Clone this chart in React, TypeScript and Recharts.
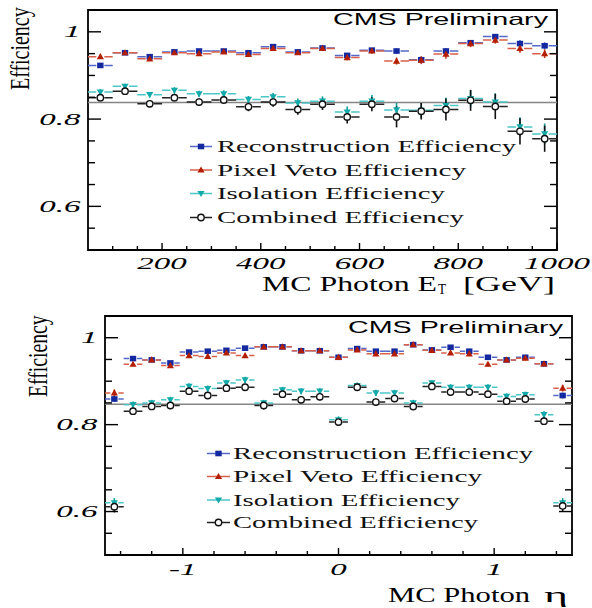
import React from "react";
import {
  ErrorBar,
  ReferenceArea,
  ReferenceLine,
  Scatter,
  ScatterChart,
  XAxis,
  YAxis,
} from "recharts";

// ---- shared efficiency axis ----
const effDomain = [0.5, 1.05];
const effTicks = [0.55, 0.6, 0.65, 0.7, 0.75, 0.8, 0.85, 0.9, 0.95, 1];
const effMajor = [0.6, 0.8, 1];

// ---- E_T panel ----
const etBins = [75, 125, 175, 225, 275, 325, 375, 425, 475, 525, 575, 625, 675, 725, 775, 825, 875, 925, 975];
const etHalfBin = 25;
const etTicks = [100, 150, 200, 250, 300, 350, 400, 450, 500, 550, 600, 650, 700, 750, 800, 850, 900, 950, 1000];
const etMajor = [200, 400, 600, 800, 1000];
const etAvg = 0.838;

const etReco = [0.923, 0.952, 0.943, 0.954, 0.956, 0.956, 0.952, 0.966, 0.954, 0.963, 0.946, 0.958, 0.956, 0.936, 0.956, 0.975, 0.989, 0.973, 0.968];
const etRecoErr = [0.004, 0.003, 0.003, 0.003, 0.003, 0.003, 0.004, 0.003, 0.004, 0.004, 0.005, 0.005, 0.006, 0.007, 0.007, 0.006, 0.006, 0.008, 0.008];
const etPixel = [0.943, 0.952, 0.938, 0.952, 0.95, 0.954, 0.948, 0.962, 0.952, 0.962, 0.941, 0.956, 0.933, 0.935, 0.949, 0.973, 0.981, 0.962, 0.95];
const etPixelErr = [0.005, 0.004, 0.004, 0.004, 0.004, 0.004, 0.005, 0.004, 0.005, 0.005, 0.006, 0.006, 0.008, 0.009, 0.011, 0.008, 0.008, 0.01, 0.01];
const etIso = [0.862, 0.875, 0.856, 0.866, 0.858, 0.858, 0.845, 0.851, 0.837, 0.841, 0.816, 0.841, 0.821, 0.82, 0.831, 0.847, 0.839, 0.782, 0.766];
const etIsoErr = [0.006, 0.006, 0.006, 0.007, 0.007, 0.008, 0.008, 0.009, 0.01, 0.011, 0.013, 0.014, 0.016, 0.017, 0.018, 0.019, 0.02, 0.022, 0.024];
const etComb = [0.849, 0.864, 0.835, 0.849, 0.839, 0.844, 0.828, 0.839, 0.822, 0.834, 0.805, 0.834, 0.805, 0.818, 0.822, 0.843, 0.829, 0.772, 0.755];
const etCombErr = [0.008, 0.007, 0.008, 0.008, 0.009, 0.009, 0.01, 0.011, 0.012, 0.013, 0.015, 0.016, 0.024, 0.019, 0.025, 0.024, 0.029, 0.03, 0.03];

// ---- eta panel ----
const etaBins = [-1.44, -1.32, -1.2, -1.08, -0.96, -0.84, -0.72, -0.6, -0.48, -0.36, -0.24, -0.12, 0, 0.12, 0.24, 0.36, 0.48, 0.6, 0.72, 0.84, 0.96, 1.08, 1.2, 1.32, 1.44];
const etaHalfBin = 0.06;
const etaTicks = [-1.4, -1.2, -1, -0.8, -0.6, -0.4, -0.2, 0, 0.2, 0.4, 0.6, 0.8, 1, 1.2, 1.4];
const etaMajor = [-1, 0, 1];
const etaAvg = 0.847;

const etaReco = [0.859, 0.952, 0.949, 0.942, 0.967, 0.969, 0.971, 0.976, 0.979, 0.979, 0.97, 0.97, 0.955, 0.975, 0.969, 0.969, 0.984, 0.972, 0.978, 0.969, 0.955, 0.949, 0.955, 0.94, 0.867];
const etaRecoErr = [0.007, 0.004, 0.004, 0.004, 0.004, 0.004, 0.003, 0.003, 0.003, 0.003, 0.003, 0.003, 0.004, 0.003, 0.003, 0.003, 0.003, 0.003, 0.003, 0.004, 0.004, 0.004, 0.004, 0.004, 0.007];
const etaPixel = [0.873, 0.939, 0.949, 0.936, 0.959, 0.957, 0.965, 0.959, 0.979, 0.979, 0.97, 0.97, 0.955, 0.972, 0.963, 0.963, 0.984, 0.971, 0.965, 0.963, 0.939, 0.949, 0.953, 0.94, 0.884];
const etaPixelErr = [0.008, 0.005, 0.005, 0.005, 0.004, 0.004, 0.004, 0.004, 0.004, 0.004, 0.004, 0.004, 0.005, 0.004, 0.004, 0.004, 0.004, 0.004, 0.004, 0.004, 0.005, 0.005, 0.005, 0.005, 0.008];
const etaIso = [0.62, 0.846, 0.85, 0.857, 0.888, 0.883, 0.896, 0.903, 0.85, 0.88, 0.877, 0.877, 0.811, 0.89, 0.873, 0.873, 0.85, 0.896, 0.886, 0.886, 0.886, 0.865, 0.869, 0.823, 0.62];
const etaIsoErr = [0.011, 0.007, 0.007, 0.007, 0.007, 0.007, 0.007, 0.007, 0.007, 0.007, 0.007, 0.007, 0.008, 0.007, 0.007, 0.007, 0.007, 0.007, 0.007, 0.007, 0.007, 0.007, 0.007, 0.008, 0.011];
const etaComb = [0.611, 0.831, 0.842, 0.844, 0.877, 0.867, 0.884, 0.886, 0.844, 0.87, 0.857, 0.864, 0.806, 0.886, 0.852, 0.86, 0.842, 0.888, 0.875, 0.875, 0.87, 0.854, 0.859, 0.808, 0.613];
const etaCombErr = [0.013, 0.008, 0.008, 0.008, 0.008, 0.008, 0.008, 0.008, 0.009, 0.008, 0.008, 0.008, 0.009, 0.008, 0.008, 0.008, 0.009, 0.008, 0.008, 0.008, 0.008, 0.008, 0.008, 0.009, 0.013];

const seriesNames = ["Reconstruction Efficiency", "Pixel Veto Efficiency", "Isolation Efficiency", "Combined Efficiency"];

type MarkerKind = "square" | "up" | "down" | "circle";
const styles: { kind: MarkerKind; color: string; hbar: string; vbar: string }[] = [
  { kind: "square", color: "#1428a0", hbar: "#5468c8", vbar: "#5468c8" },
  { kind: "up", color: "#b41e00", hbar: "#d8604a", vbar: "#c03a20" },
  { kind: "down", color: "#12aaaa", hbar: "#4cc6c6", vbar: "#129c9c" },
  { kind: "circle", color: "#111", hbar: "#222", vbar: "#111" },
];

const W = 592;
const SERIF = "'Liberation Serif', 'Times New Roman', serif";
const SANS = "'Liberation Sans', Arial, sans-serif";

function Marker({ kind, cx, cy, color }: { kind: MarkerKind; cx: number; cy: number; color: string }) {
  if (kind === "square") return <rect x={cx - 3.2} y={cy - 2.8} width={6.4} height={5.6} fill={color} />;
  if (kind === "up")
    return <polygon points={`${cx},${cy - 3.6} ${cx - 3.6},${cy + 2.6} ${cx + 3.6},${cy + 2.6}`} fill={color} />;
  if (kind === "down")
    return <polygon points={`${cx - 3.6},${cy - 2.6} ${cx + 3.6},${cy - 2.6} ${cx},${cy + 3.6}`} fill={color} />;
  return <circle cx={cx} cy={cy} r={3.2} fill="#fff" stroke={color} strokeWidth={1.4} />;
}

const isMajor = (v: number, majors: number[]) => majors.some((m) => Math.abs(m - v) < 1e-6);

function XTick(props: any) {
  const { x, y, payload, majors, labelDy } = props;
  const v = payload.value as number;
  const major = isMajor(v, majors);
  return (
    <g>
      <line x1={x} x2={x} y1={y} y2={y - (major ? 7 : 4)} stroke="#000" strokeWidth={1.4} />
      {major && (
        <text
          transform={`translate(${x},${y + labelDy}) scale(2,1)`}
          textAnchor="middle"
          fontFamily={SERIF}
          fontStyle="italic"
          fontSize={16.5}
          fill="#000"
        >
          {String(Math.round(v))}
        </text>
      )}
    </g>
  );
}

function YTick(props: any) {
  const { x, y, payload, plotW } = props;
  const v = payload.value as number;
  const major = isMajor(v, effMajor);
  const len = major ? 13 : 7;
  return (
    <g>
      <line x1={x} x2={x + len} y1={y} y2={y} stroke="#000" strokeWidth={1.4} />
      <line x1={x + plotW} x2={x + plotW - len} y1={y} y2={y} stroke="#000" strokeWidth={1.4} />
      {major && (
        <text
          transform={`translate(${x - 7.5},${y + 5.5}) scale(2,1)`}
          textAnchor="end"
          fontFamily={SERIF}
          fontStyle="italic"
          fontSize={16.5}
          fill="#000"
        >
          {Math.abs(v - 1) < 1e-6 ? "1" : v.toFixed(1)}
        </text>
      )}
    </g>
  );
}

function Panel({
  bins,
  halfBin,
  values,
  errors,
  avg,
  xDomain,
  xTicks,
  xMajor,
  labelDy,
  plot,
  height,
}: {
  bins: number[];
  halfBin: number;
  values: number[][];
  errors: number[][];
  avg: number;
  xDomain: number[];
  xTicks: number[];
  xMajor: number[];
  labelDy: number;
  plot: { top: number; right: number; bottom: number; left: number };
  height: number;
}) {
  const plotW = W - plot.left - plot.right;
  // axes take 1px each (an axis of size 0 is not drawn), so the margins give that back
  const margin = { top: plot.top, right: plot.right, bottom: plot.bottom - 1, left: plot.left - 1 };
  // ROOT leaves a gap in the x error bar around the marker
  const barLen = (2 * halfBin * plotW) / (xDomain[1] - xDomain[0]);
  const gap = 8;
  const dash = `${(barLen - gap) / 2} ${gap} ${barLen}`;
  return (
    <ScatterChart width={W} height={height} margin={margin}>
      <XAxis
        type="number"
        dataKey="x"
        domain={xDomain}
        ticks={xTicks}
        interval={0}
        allowDataOverflow
        height={1}
        tickSize={0}
        tickMargin={0}
        axisLine={false}
        tickLine={false}
        tick={(p: any) => <XTick {...p} majors={xMajor} labelDy={labelDy} />}
      />
      <YAxis
        type="number"
        dataKey="y"
        domain={effDomain}
        ticks={effTicks}
        interval={0}
        allowDataOverflow
        width={1}
        tickSize={0}
        tickMargin={0}
        axisLine={false}
        tickLine={false}
        tick={(p: any) => <YTick {...p} plotW={plotW} />}
      />
      <ReferenceArea
        x1={xDomain[0]}
        x2={xDomain[1]}
        y1={effDomain[0]}
        y2={effDomain[1]}
        fill="none"
        stroke="#000"
        strokeWidth={1.8}
      />
      <ReferenceLine y={avg} stroke="#858585" strokeWidth={1.6} />
      {values.map((vals, s) => {
        const st = styles[s];
        const data = bins.map((x, i) => ({ x, y: vals[i], ex: halfBin, ey: errors[s][i] }));
        return (
          <Scatter
            key={seriesNames[s]}
            name={seriesNames[s]}
            data={data}
            isAnimationActive={false}
            shape={(p: any) => <Marker kind={st.kind} cx={p.cx} cy={p.cy} color={st.color} />}
          >
            <ErrorBar dataKey="ex" direction="x" width={0} stroke={st.hbar} strokeWidth={1.5} strokeDasharray={dash} />
            <ErrorBar dataKey="ey" direction="y" width={0} stroke={st.vbar} strokeWidth={1.6} />
          </Scatter>
        );
      })}
    </ScatterChart>
  );
}

function LegendBlock({ x, lineX1, lineX2, baselines, widths }: { x: number; lineX1: number; lineX2: number; baselines: number[]; widths: number[] }) {
  return (
    <g>
      {seriesNames.map((name, i) => {
        const st = styles[i];
        const cy = baselines[i] - 5.5;
        return (
          <g key={name}>
            <line x1={lineX1} x2={lineX2} y1={cy} y2={cy} stroke={st.hbar} strokeWidth={1.5} />
            <Marker kind={st.kind} cx={(lineX1 + lineX2) / 2} cy={cy} color={st.color} />
            <text
              x={x}
              y={baselines[i]}
              fontFamily={SERIF}
              fontSize={16}
              fill="#111"
              textLength={widths[i]}
              lengthAdjust="spacingAndGlyphs"
            >
              {name}
            </text>
          </g>
        );
      })}
    </g>
  );
}

export default function App() {
  return (
    <div style={{ position: "fixed", left: 0, top: 0, width: W, height: 608, background: "#fff" }}>
      <div style={{ position: "absolute", left: 0, top: 0 }}>
        <Panel
          bins={etBins}
          halfBin={etHalfBin}
          values={[etReco, etPixel, etIso, etComb]}
          errors={[etRecoErr, etPixelErr, etIsoErr, etCombErr]}
          avg={etAvg}
          xDomain={[50, 1000]}
          xTicks={etTicks}
          xMajor={etMajor}
          labelDy={18.5}
          plot={{ top: 10, right: 35, bottom: 54, left: 88 }}
          height={304}
        />
      </div>
      <div style={{ position: "absolute", left: 0, top: 304 }}>
        <Panel
          bins={etaBins}
          halfBin={etaHalfBin}
          values={[etaReco, etaPixel, etaIso, etaComb]}
          errors={[etaRecoErr, etaPixelErr, etaIsoErr, etaCombErr]}
          avg={etaAvg}
          xDomain={[-1.5, 1.5]}
          xTicks={etaTicks}
          xMajor={etaMajor}
          labelDy={20}
          plot={{ top: 12, right: 20, bottom: 53, left: 105 }}
          height={304}
        />
      </div>
      <svg
        width={W}
        height={608}
        style={{ position: "absolute", left: 0, top: 0, pointerEvents: "none" }}
      >
        {/* axis titles: Times "Efficiency" is 4.165em wide, squeezed to the reference's 83px */}
        <text transform="translate(29,90) rotate(-90) scale(0.712,1)" fontFamily={SERIF} fontSize={28}>
          Efficiency
        </text>
        <text transform="translate(47,397) rotate(-90) scale(0.703,1)" fontFamily={SERIF} fontSize={28}>
          Efficiency
        </text>
        <text x={262} y={291} fontFamily={SERIF} fontSize={21} textLength={175} lengthAdjust="spacingAndGlyphs">
          MC Photon E
        </text>
        <text x={438} y={294} fontFamily={SERIF} fontSize={14} textLength={8} lengthAdjust="spacingAndGlyphs">
          T
        </text>
        <text x={463} y={291} fontFamily={SERIF} fontSize={21} textLength={92} lengthAdjust="spacingAndGlyphs">
          [GeV]
        </text>
        <text x={388} y={602} fontFamily={SERIF} fontSize={21} textLength={142} lengthAdjust="spacingAndGlyphs">
          MC Photon
        </text>
        <text x={544} y={602} fontFamily={SERIF} fontSize={20} textLength={24} lengthAdjust="spacingAndGlyphs">
          η
        </text>
        {/* CMS labels */}
        <text x={333} y={25} fontFamily={SANS} fontSize={16.5} textLength={215} lengthAdjust="spacingAndGlyphs">
          CMS Preliminary
        </text>
        <text x={348} y={333} fontFamily={SANS} fontSize={16.5} textLength={215} lengthAdjust="spacingAndGlyphs">
          CMS Preliminary
        </text>
        {/* legends */}
        <LegendBlock x={217} lineX1={190} lineX2={212} baselines={[152, 175.5, 199, 223]} widths={[299, 249, 228, 247]} />
        <LegendBlock x={233} lineX1={207} lineX2={230} baselines={[459, 482, 505.5, 528]} widths={[300, 249, 227, 245]} />
      </svg>
    </div>
  );
}
